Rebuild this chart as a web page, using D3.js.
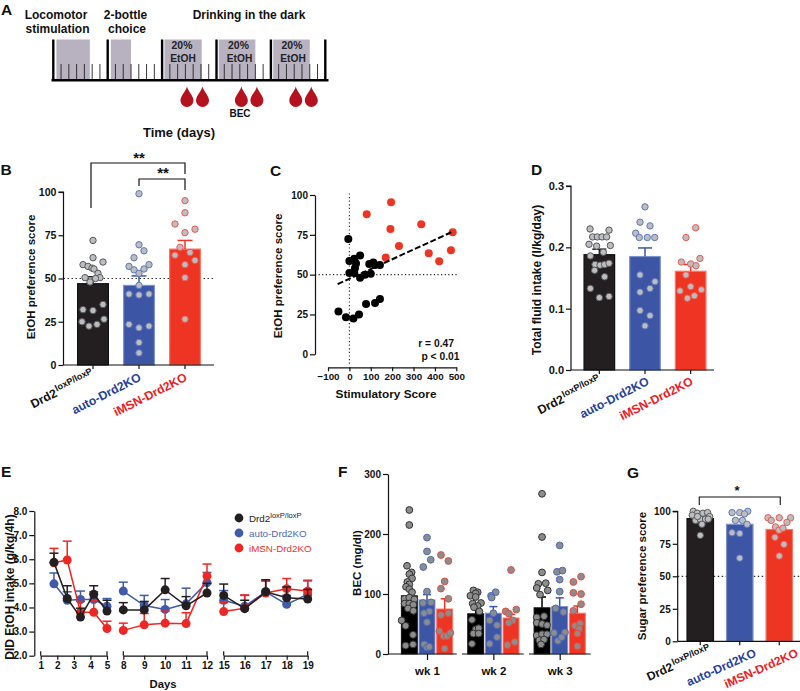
<!DOCTYPE html>
<html>
<head>
<meta charset="utf-8">
<script src="https://cdnjs.cloudflare.com/ajax/libs/d3/7.8.5/d3.min.js"></script>
<style>
body { margin: 0; background: #fff; }
svg { display: block; }
text { font-family: "Liberation Sans", Arial, sans-serif; }
</style>
</head>
<body>
<svg width="800" height="691"></svg>
<script>
//group names
const groups = ['ctrl', 'auto', 'imsn'];
const weeks = ['wk 1', 'wk 2', 'wk 3'];

//panel A - timeline in days
const aWeekStarts = [0, 7, 14, 21, 28, 35];
const aDays = d3.range(1, 35).filter(d => d % 7 !== 0);
const aShadeFrom = [0.4, 7.4, 14.3, 21.3, 28.3];
const aShadeTo = [4.7, 10, 19.1, 26, 33];
const aDrops = [17.2, 19.2, 24.2, 26.2, 31.2, 33.2];

//panel B
const bMeans = [47, 46, 67];
const bErrTops = [51, 51.5, 72];
const bCtrl = [72, 62, 58, 59.5, 57, 56, 55.5, 53, 50.5, 50.5, 50, 48, 32, 31.5, 35, 25, 22.5, 23.5, 26.5];
const bCtrlOff = [0, 0, -10, 10, -5, -1, 1, 5, -8, 7, 2.5, -3, -10, 0, 10, -11, -4, 4, 11];
const bAuto = [99, 69.5, 66, 62, 57, 58, 55, 55.5, 53, 46, 41, 40.5, 41, 23.5, 21.5, 22.5, 13, 7];
const bAutoOff = [0, 0, 5, -5, -10, 10, -5, 5, 0, 0, -10, 0, 10, -10, 0, 10, 0, 0];
const bImsn = [95, 88, 81.5, 76.5, 78.5, 68, 63.5, 65, 60.5, 58, 50.5, 26.5];
const bImsnOff = [0, 0, -10, 0, 10, -5, -10, 5, 10, 0, 0, 0];

//panel C
const cCtrlX = [-5, 0, 23, 50, 31, 26, 0, 23, 50, 73, 100, 93, 112, 120, 143, -51, -16, 19, 45, 78, 120, 143];
const cCtrlY = [72.4, 58.6, 60, 62, 57, 54, 51, 51, 48, 50, 50.6, 56.7, 57.7, 56, 56, 26.8, 23.2, 22.4, 25, 31.6, 32.2, 34.7];
const cImsnX = [195, 81, 336, 192, 483, 232, 170, 371, 475, 420];
const cImsnY = [95.4, 87.9, 81.6, 78.7, 76.6, 68, 60.7, 63.4, 65.3, 58.4];
const cFitX = [-55, 483];
const cFitY = [44, 77];

//panel D
const dMeans = [0.188, 0.185, 0.161];
const dErrTops = [0.197, 0.199, 0.172];
const dCtrl = [0.23, 0.228, 0.217, 0.217, 0.217, 0.217, 0.205, 0.202, 0.203, 0.186, 0.192, 0.172, 0.171, 0.172, 0.174, 0.1625, 0.152, 0.133, 0.118, 0.12];
const dCtrlOff = [-9.3, 9.7, -6.7, -2, 2.7, 7.3, -10.3, -2.7, 11, -9, 4, -4.3, 0.7, 5.3, 9.7, -4.7, 5.3, -9, 0, 9.7];
const dAuto = [0.266, 0.241, 0.235, 0.223, 0.216, 0.216, 0.216, 0.155, 0.144, 0.133, 0.127, 0.097, 0.0886, 0.072];
const dAutoOff = [0, -5, 5, -9.3, -5.7, 2.3, 9.7, -5, 10, 5, -5, -5, 5, 0];
const dImsn = [0.232, 0.216, 0.176, 0.182, 0.173, 0.17, 0.155, 0.136, 0.129, 0.131, 0.121, 0.117];
const dImsnOff = [5, -4.7, -9.3, 9.3, 0, 5.3, -4.7, 0, -10.7, 10.7, 3.7, -3.3];

//panel E
const eTicks = [[1, 2, 3, 4, 5], [8, 9, 10, 11, 12], [15, 16, 17, 18, 19]];
const eDays = [[1.8, 2.6, 3.4, 4.2, 5], [8, 9, 10, 11, 12], [15, 16, 17, 18, 19]];
const eCtrl = [[5.87, 4.37, 3.6, 4.55, 3.85], [3.9, 3.9, 4.73, 4.07, 4.6], [4.5, 3.95, 4.65, 4.4, 4.35]];
const eCtrlTop = [[6.25, 4.9, 3.97, 4.9, 4.3], [4.2, 4.25, 5.2, 4.45, 5.0], [4.97, 4.3, 5.15, 4.85, 4.75]];
const eAuto = [[4.98, 4.3, 4.33, 4.33, 4.05], [4.68, 4.08, 3.92, 4.15, 5.03], [4.3, 4.05, 4.65, 4.13, 4.55]];
const eAutoTop = [[5.43, 4.65, 4.68, 4.65, 4.37], [5.05, 4.5, 4.33, 4.8, 5.45], [4.7, 4.5, 5.1, 4.5, 5.13]];
const eImsn = [[5.85, 5.97, 3.8, 3.8, 3.13], [3.05, 3.28, 3.35, 3.33, 5.3], [3.83, 3.97, 4.6, 4.78, 4.68]];
const eImsnTop = [[6.45, 6.75, 4.25, 4.3, 3.43], [3.35, 3.75, 3.85, 3.78, 5.8], [4.2, 4.52, 5.1, 5.2, 5.1]];

//panel F
const fMeans = [[97, 90, 75], [67, 68, 60], [77, 79, 68]];
const fErrTops = [[108, 99, 92], [76, 79, 66], [95, 93.5, 80]];
const fW1Ctrl = [240, 215, 147, 136, 133, 126, 120, 116, 112, 108, 103, 92, 94, 91, 84, 84, 82, 76, 72, 56, 47, 32, 14, 16];
const fW1CtrlOff = [0, 0, -2.3, 2.3, 0, 2.7, -2, 0, -3.3, 0, 2.7, -4.7, 0, 5, -4.7, 0, 4, -1.3, 4, -7.7, -3.7, 3.7, -3.7, 3.7];
const fW1Auto = [194, 171, 157, 145, 104, 85, 86, 71, 68, 53, 16, 11, 12];
const fW1AutoOff = [0, 0, 3.7, -3.7, 0, -4, 4, 2.3, -3, 0, -2.7, 0, 2.3];
const fW1Imsn = [165, 155, 121, 109, 92, 65, 68, 38, 30, 30, 35, 9];
const fW1ImsnOff = [-3.7, 3.7, 0, -3.7, 3.7, -3.7, 3.7, -5.3, -1.3, 2.3, 5.7, 0];
const fW2Ctrl = [106, 103, 101, 97, 95, 84, 85, 80, 78, 71, 57, 41, 43, 34, 34, 17];
const fW2CtrlOff = [-2.3, 2, 0, -5.3, 0, -3, 5.3, 2, -1.7, 3.7, -3.7, 0, 3, -2.3, 3, -3.7];
const fW2Auto = [103, 97, 94, 68, 56, 48, 28, 17];
const fW2AutoOff = [2.3, -2.3, -1.7, 0, -3.7, 3.7, 3.7, -3.7];
const fW2Imsn = [140, 74, 71, 67, 56, 52, 20, 15];
const fW2ImsnOff = [0, 5.3, -5.3, -2, 1.7, -2.3, 3.7, -3.7];
const fW3Ctrl = [267, 195, 136, 117, 118, 110, 106, 99, 63, 61, 52, 50, 48, 31, 33, 33, 23, 24, 16];
const fW3CtrlOff = [0, 0, 0, -3.7, 3.7, -5.3, 5.7, -2, 2, -5.3, -5.3, 0, 5, -5.3, 0, 5, -2.7, 2, -1];
const fW3Auto = [181, 137, 139, 124, 104, 76, 70, 35, 36, 22, 28];
const fW3AutoOff = [0, -2.7, 2.7, 0, 0, -4, 3.7, -5.7, 5.3, -1.7, 2];
const fW3Imsn = [129, 120, 102, 100, 83, 72, 47, 51, 42, 34, 13];
const fW3ImsnOff = [3.7, -4, -4, 3.7, 3.7, -4, -2.3, 2.7, 1.7, 0, 0];

//panel G
const gMeans = [94.4, 90, 86];
const gCtrl = [100, 98.5, 98.5, 99, 97, 93, 94, 94, 96, 96, 94, 90, 81.5];
const gCtrlOff = [-7, -3, 2.7, 7.3, -8, -4.7, 0, 5.3, 9.3, -2.7, 8, 1.7, 0];
const gAuto = [99, 99, 100, 98, 93, 93, 90, 83.5, 83, 64];
const gAutoOff = [-7.7, 0, 8, 4.7, -4.3, 2.7, 7.3, -7.7, 0, 0];
const gImsn = [95, 93, 95, 95, 91.5, 88, 85.5, 87, 80, 74.6, 65.6];
const gImsnOff = [-11.3, -8, 0, 11.3, 7.7, -3.7, -0.3, 3.7, -4.3, 4.7, 0];

const BLACK = '#231f20';
const BLUE = '#3c55a5';
const RED = '#ee3524';
const barFill = { ctrl: BLACK, auto: BLUE, imsn: RED };
const barStroke = { ctrl: '#111', auto: '#7e91c9', imsn: '#f4796b' };
const dotStroke = { ctrl: '#58595b', auto: '#5f78bc', imsn: '#ef5a4e' };
const dotStrokeF = { ctrl: '#333', auto: '#4f6ab5', imsn: '#ee4a3c' };
const labelFill = { ctrl: '#111', auto: '#27409b', imsn: '#ed1c24' };

const svg = d3.select('svg');

function panelLetter(t, x, y) {
    svg.append('text').text(t).attr('x', x).attr('y', y)
        .attr('font-size', 15.5).attr('font-weight', 'bold').attr('fill', '#111');
}

function boldText(g, t, x, y, size, anchor) {
    return g.append('text').text(t).attr('x', x).attr('y', y)
        .attr('font-size', size).attr('font-weight', 'bold')
        .attr('text-anchor', anchor || 'middle').attr('fill', '#111');
}

function yTitle(t, x, y, size) {
    svg.append('text').text(t)
        .attr('transform', `translate(${x},${y}) rotate(-90)`)
        .attr('text-anchor', 'middle')
        .attr('font-size', size || 11.5).attr('font-weight', 'bold').attr('fill', '#111');
}

function styleAxis(g, size) {
    g.selectAll('path,line').attr('stroke', '#111').attr('stroke-width', 1.2);
    g.selectAll('text').attr('font-size', size || 10.5).attr('font-weight', 'bold')
        .attr('font-family', '"Liberation Sans", Arial, sans-serif').attr('fill', '#111');
}

//the three slanted labels under a bar panel
function groupLabels(ends, angle, size) {
    const names = ['Drd2', 'auto-Drd2KO', 'iMSN-Drd2KO'];
    names.forEach((n, i) => {
        const t = svg.append('text')
            .attr('transform', `translate(${ends[i][0]},${ends[i][1]}) rotate(${angle})`)
            .attr('text-anchor', 'end')
            .attr('font-size', size).attr('font-weight', 'bold')
            .attr('fill', labelFill[groups[i]]);
        t.append('tspan').text(n);
        if (i === 0) {
            t.append('tspan').text('loxP/loxP').attr('font-size', 9).attr('dy', -4.5).attr('dx', 1);
        }
    });
}

function drawDots(g, vals, offs, cx, y, stroke, fill, r) {
    g.selectAll(null)
        .data(vals)
        .enter()
        .append('circle')
        .attr('cx', (d, i) => cx + offs[i])
        .attr('cy', d => y(d))
        .attr('r', r)
        .attr('fill', fill)
        .attr('stroke', stroke)
        .attr('stroke-width', 1);
}

function drawErr(g, cx, y, mean, top, color, cap) {
    g.append('line').attr('x1', cx).attr('x2', cx).attr('y1', y(mean)).attr('y2', y(top))
        .attr('stroke', color).attr('stroke-width', 1.5);
    g.append('line').attr('x1', cx - cap / 2).attr('x2', cx + cap / 2).attr('y1', y(top)).attr('y2', y(top))
        .attr('stroke', color).attr('stroke-width', 1.5);
}

//panels B, D and G are the same kind of chart
function barPanel(c) {
    const g = svg.append('g');
    const y = d3.scaleLinear().domain([0, c.yMax]).range([c.bottom, c.top]);
    const x = d3.scaleBand().domain(groups).range(c.xRange).paddingInner(0.33).paddingOuter(0.165);

    if (c.refLine !== undefined) {
        g.append('line').attr('x1', c.axisX).attr('x2', c.refEnd).attr('y1', y(c.refLine)).attr('y2', y(c.refLine))
            .attr('stroke', '#333').attr('stroke-width', 1.2).attr('stroke-dasharray', '1.5,2.5');
    }

    g.selectAll('.bar')
        .data(groups)
        .enter()
        .append('rect')
        .classed('bar', true)
        .attr('x', d => x(d))
        .attr('width', x.bandwidth())
        .attr('y', (d, i) => y(c.means[i]))
        .attr('height', (d, i) => y(0) - y(c.means[i]))
        .attr('fill', d => barFill[d])
        .attr('stroke', d => barStroke[d])
        .attr('stroke-width', 1.2);

    groups.forEach((d, i) => {
        const cx = x(d) + x.bandwidth() / 2;
        if (c.errTops) drawErr(g, cx, y, c.means[i], c.errTops[i], barFill[d], c.cap);
        drawDots(g, c.dots[i], c.offs[i], cx, y, dotStroke[d], '#bcbdc0', 3.2);
    });

    const yAxis = g.append('g')
        .attr('transform', `translate(${c.axisX},0)`)
        .call(d3.axisLeft(y).tickValues(c.ticks).tickFormat(c.fmt || d3.format('d')).tickSize(5).tickPadding(2));
    styleAxis(yAxis, c.tickFont);
    yAxis.select('.domain').attr('d', `M0,${y(0)}V${y(c.yMax)}H-5`);

    const xAxis = g.append('g')
        .attr('transform', `translate(0,${c.bottom})`)
        .call(d3.axisBottom(x).tickSize(4).tickSizeOuter(0).tickFormat(''));
    styleAxis(xAxis);
    xAxis.select('.domain').attr('d', `M${c.axisX},0H${c.axisEnd}`);
    return { x: d => x(d) + x.bandwidth() / 2, y };
}

//--------- A ---------
function panelA() {
    const g = svg.append('g');
    const x = d3.scaleLinear().domain([0, 35]).range([53.3, 325.3]);
    const yTop = 39.5, yBase = 80.3, ySmall = 64;

    g.selectAll('.shade')
        .data(aShadeFrom)
        .enter()
        .append('rect')
        .attr('x', d => x(d))
        .attr('width', (d, i) => x(aShadeTo[i]) - x(d))
        .attr('y', yTop).attr('height', yBase - yTop)
        .attr('fill', '#b8b1c0');

    g.selectAll('.small')
        .data(aDays)
        .enter()
        .append('line')
        .attr('x1', d => x(d)).attr('x2', d => x(d))
        .attr('y1', ySmall).attr('y2', yBase)
        .attr('stroke', '#222').attr('stroke-width', 0.9);

    g.selectAll('.big')
        .data(aWeekStarts)
        .enter()
        .append('line')
        .attr('x1', d => x(d)).attr('x2', d => x(d))
        .attr('y1', yTop).attr('y2', yBase)
        .attr('stroke', '#000').attr('stroke-width', 2.4);

    g.append('line').attr('x1', 51.5).attr('x2', 328.5).attr('y1', yBase).attr('y2', yBase)
        .attr('stroke', '#000').attr('stroke-width', 2.4);

    g.selectAll('.drop')
        .data(aDrops)
        .enter()
        .append('path')
        .attr('transform', d => `translate(${x(d)},86.5)`)
        .attr('d', 'M0,0C1,5 6.5,9 6.5,14A6.5,6.5 0 0 1 -6.5,14C-6.5,9 -1,5 0,0Z')
        .attr('fill', '#b5121f');

    boldText(g, 'Locomotor', 56, 19, 12);
    boldText(g, 'stimulation', 57.5, 33, 12);
    boldText(g, '2-bottle', 125.5, 19, 12);
    boldText(g, 'choice', 127, 33, 12);
    boldText(g, 'Drinking in the dark', 249, 19, 12);
    [182, 238.5, 292].forEach(cx => {
        boldText(g, '20%', cx, 49, 10.4).attr('fill', '#222');
        boldText(g, 'EtOH', cx + 1, 62, 10.2).attr('fill', '#222');
    });
    boldText(g, 'BEC', 240, 117, 10);
    boldText(g, 'Time (days)', 179, 137, 13);
}
panelA();
panelLetter('A', 1, 14.5);

//--------- B ---------
const bY = barPanel({
    yMax: 100, top: 192, bottom: 365, xRange: [70, 208], axisX: 63.5, axisEnd: 214,
    means: bMeans, errTops: bErrTops, dots: [bCtrl, bAuto, bImsn], offs: [bCtrlOff, bAutoOff, bImsnOff],
    ticks: [0, 25, 50, 75, 100], refLine: 50, refEnd: 214, cap: 15, tickFont: 10.6
});
panelLetter('B', 0.5, 175);
yTitle('EtOH preference score', 35, 277);
groupLabels([[95, 377], [142, 380], [188, 380]], -27, 12.2);

const bracket = svg.append('g').attr('fill', 'none').attr('stroke', '#111').attr('stroke-width', 1.2);
bracket.append('path').attr('d', `M${bY.x('ctrl') - 2},208V163H${bY.x('imsn')}V174`);
bracket.append('path').attr('d', `M${bY.x('auto')},186V179H${bY.x('imsn')}V190`);
boldText(svg, '**', 139, 163, 15);
boldText(svg, '**', 163, 178, 15);

//--------- C ---------
function panelC() {
    const g = svg.append('g');
    const x = d3.scaleLinear().domain([-100, 500]).range([328, 456.3]);
    const y = d3.scaleLinear().domain([0, 100]).range([354.3, 195]);

    g.append('line').attr('x1', 315).attr('x2', x(505)).attr('y1', y(50)).attr('y2', y(50))
        .attr('stroke', '#222').attr('stroke-width', 1.1).attr('stroke-dasharray', '1.2,2.4');
    g.append('line').attr('x1', x(0)).attr('x2', x(0)).attr('y1', y(101)).attr('y2', 364)
        .attr('stroke', '#222').attr('stroke-width', 1.1).attr('stroke-dasharray', '1.2,2.4');

    g.selectAll('.ctrl')
        .data(cCtrlX)
        .enter()
        .append('circle')
        .attr('cx', d => x(d))
        .attr('cy', (d, i) => y(cCtrlY[i]))
        .attr('r', 4)
        .attr('fill', '#000');

    g.selectAll('.imsn')
        .data(cImsnX)
        .enter()
        .append('circle')
        .attr('cx', d => x(d))
        .attr('cy', (d, i) => y(cImsnY[i]))
        .attr('r', 4)
        .attr('fill', RED);

    g.append('line')
        .attr('x1', x(cFitX[0])).attr('x2', x(cFitX[1]))
        .attr('y1', y(cFitY[0])).attr('y2', y(cFitY[1]))
        .attr('stroke', '#000').attr('stroke-width', 2).attr('stroke-dasharray', '6,2.5');

    const yAxis = g.append('g').attr('transform', 'translate(315,0)')
        .call(d3.axisLeft(y).tickValues([0, 25, 50, 75, 100]).tickSize(5).tickSizeOuter(0).tickPadding(2));
    styleAxis(yAxis, 10);
    const xAxis = g.append('g').attr('transform', 'translate(0,367.3)')
        .call(d3.axisBottom(x).tickValues(d3.range(-100, 501, 100)).tickSize(4).tickSizeOuter(0).tickPadding(2));
    styleAxis(xAxis, 9.8);

    boldText(g, 'r = 0.47', 454, 347, 10.3, 'end');
    boldText(g, 'p < 0.01', 459.5, 360, 10.3, 'end');
    boldText(g, 'Stimulatory Score', 386, 398, 11.8);
}
panelC();
panelLetter('C', 270, 176);
yTitle('EtOH preference score', 281.5, 276);

//--------- D ---------
barPanel({
    yMax: 0.3, top: 186, bottom: 370, xRange: [576.5, 713.5], axisX: 571, axisEnd: 714,
    means: dMeans, errTops: dErrTops, dots: [dCtrl, dAuto, dImsn], offs: [dCtrlOff, dAutoOff, dImsnOff],
    ticks: [0, 0.1, 0.2, 0.3], fmt: d3.format('.1f'), cap: 14, tickFont: 11
});
panelLetter('D', 531, 175);
yTitle('Total fluid intake (l/kg/day)', 540.5, 280, 12);
groupLabels([[602, 383], [650, 384], [694, 384]], -27, 12.2);

//--------- E ---------
function panelE() {
    const g = svg.append('g');
    //the three blocks of days share one scale with gaps between them
    const x = d3.scaleLinear().domain([1, 5, 8, 12, 15, 19]).range([40.7, 107, 123.3, 207, 223.7, 307.7]);
    const y = d3.scaleLinear().domain([2, 8]).range([655.7, 511]);

    const series = [
        { vals: eAuto, tops: eAutoTop, color: '#3f5ba9' },
        { vals: eImsn, tops: eImsnTop, color: '#ee2724' },
        { vals: eCtrl, tops: eCtrlTop, color: BLACK }
    ];
    const line = d3.line().x(d => x(d[0])).y(d => y(d[1]));

    series.forEach(s => {
        eDays.forEach((days, k) => {
            const sg = g.append('g');
            sg.append('path')
                .attr('d', line(days.map((d, i) => [d, s.vals[k][i]])))
                .attr('fill', 'none').attr('stroke', s.color).attr('stroke-width', 1.5);
            days.forEach((d, i) => drawErr(sg, x(d), y, s.vals[k][i], s.tops[k][i], s.color, 9));
            sg.selectAll('circle')
                .data(days)
                .enter()
                .append('circle')
                .attr('cx', d => x(d))
                .attr('cy', (d, i) => y(s.vals[k][i]))
                .attr('r', 4.5)
                .attr('fill', s.color);
        });
    });

    const yAxis = g.append('g').attr('transform', 'translate(34.3,0)')
        .call(d3.axisLeft(y).tickValues(d3.range(2, 9)).tickSize(5).tickSizeOuter(0).tickPadding(2));
    styleAxis(yAxis, 10);

    eTicks.forEach(t => {
        const sub = d3.scaleLinear().domain([t[0], t[4]]).range([x(t[0]), x(t[4])]);
        const xAxis = g.append('g').attr('transform', `translate(0,${y(2)})`)
            .call(d3.axisBottom(sub).tickValues(t).tickFormat(d3.format('d')).tickSize(4).tickSizeOuter(0).tickPadding(2));
        styleAxis(xAxis, 10);
        [t[0], t[4]].forEach(v => {
            g.append('line').attr('x1', x(v)).attr('x2', x(v)).attr('y1', y(2) - 4.5).attr('y2', y(2))
                .attr('stroke', '#111').attr('stroke-width', 1.2);
        });
    });
    boldText(g, 'Days', 163, 688, 11.3);

    //legend
    const names = ['Drd2', 'auto-Drd2KO', 'iMSN-Drd2KO'];
    const legY = [518, 533, 548];
    const legDot = [BLACK, '#3f5ba9', '#ee2724'];
    const legText = ['#222', '#4f68b0', '#ee2f2c'];
    names.forEach((n, i) => {
        g.append('circle').attr('cx', 239).attr('cy', legY[i]).attr('r', 4.4).attr('fill', legDot[i]);
        const t = g.append('text').attr('x', 249).attr('y', legY[i] + 3.5)
            .attr('font-size', 9.8).attr('fill', legText[i]);
        t.append('tspan').text(n);
        if (i === 0) t.append('tspan').text('loxP/loxP').attr('font-size', 7.5).attr('dy', -4);
    });
}
panelE();
panelLetter('E', 1, 477);
yTitle('DID EtOH intake (g/kg/4h)', 13.5, 587, 12);

//--------- F ---------
function panelF() {
    const g = svg.append('g');
    const y = d3.scaleLinear().domain([0, 300]).range([654, 474]);
    const x0 = d3.scalePoint().domain(weeks).range([427, 559.7]);
    const x1 = d3.scaleBand().domain(groups).range([-26.5, 26.5]).paddingInner(0.1).paddingOuter(0.05);
    const fDots = [[fW1Ctrl, fW1Auto, fW1Imsn], [fW2Ctrl, fW2Auto, fW2Imsn], [fW3Ctrl, fW3Auto, fW3Imsn]];
    const fOffs = [[fW1CtrlOff, fW1AutoOff, fW1ImsnOff], [fW2CtrlOff, fW2AutoOff, fW2ImsnOff], [fW3CtrlOff, fW3AutoOff, fW3ImsnOff]];

    weeks.forEach((w, k) => {
        groups.forEach((d, i) => {
            const cx = x0(w) + x1(d) + x1.bandwidth() / 2;
            g.append('rect')
                .attr('x', x0(w) + x1(d))
                .attr('width', x1.bandwidth())
                .attr('y', y(fMeans[k][i]))
                .attr('height', y(0) - y(fMeans[k][i]))
                .attr('fill', d === 'ctrl' ? '#000' : barFill[d])
                .attr('stroke', barStroke[d]).attr('stroke-width', 1);
            drawErr(g, cx, y, fMeans[k][i], fErrTops[k][i], d === 'ctrl' ? '#000' : barFill[d], 8);
            drawDots(g, fDots[k][i], fOffs[k][i], cx, y, dotStrokeF[d], '#8c8c8c', 3.4);
        });
    });

    const yAxis = g.append('g').attr('transform', 'translate(388,0)')
        .call(d3.axisLeft(y).tickValues([0, 100, 200, 300]).tickSize(5).tickSizeOuter(0).tickPadding(2));
    styleAxis(yAxis, 10);

    const segStart = [388, 462, 529];
    const segEnd = [456.7, 523.7, 590.7];
    const xAxis = g.append('g').attr('transform', 'translate(0,654)');
    xAxis.call(d3.axisBottom(x0).tickSize(6).tickSizeOuter(0).tickPadding(5));
    xAxis.select('.domain').remove();
    styleAxis(xAxis, 11.5);
    xAxis.selectAll('text').attr('dy', '0.9em');
    segStart.forEach((s, i) => {
        xAxis.append('line').attr('x1', s).attr('x2', segEnd[i]).attr('y1', 0).attr('y2', 0)
            .attr('stroke', '#111').attr('stroke-width', 1.2);
    });
}
panelF();
panelLetter('F', 338, 477);
yTitle('BEC (mg/dl)', 361, 563);

//--------- G ---------
const gY = barPanel({
    yMax: 100, top: 511.3, bottom: 641.3, xRange: [680.5, 799], axisX: 677.7, axisEnd: 800,
    means: gMeans, dots: [gCtrl, gAuto, gImsn], offs: [gCtrlOff, gAutoOff, gImsnOff],
    ticks: [0, 25, 50, 75, 100], refLine: 50, refEnd: 800, cap: 10, tickFont: 10
});
panelLetter('G', 627, 478);
yTitle('Sugar preference score', 646, 576);
groupLabels([[712, 653], [757, 656], [799, 656]], -24, 12);

svg.append('path')
    .attr('d', `M${gY.x('ctrl') - 1},505V497H${gY.x('imsn') + 1}V505`)
    .attr('fill', 'none').attr('stroke', '#111').attr('stroke-width', 1.1);
boldText(svg, '*', 737, 495, 13);
</script>
</body>
</html>
